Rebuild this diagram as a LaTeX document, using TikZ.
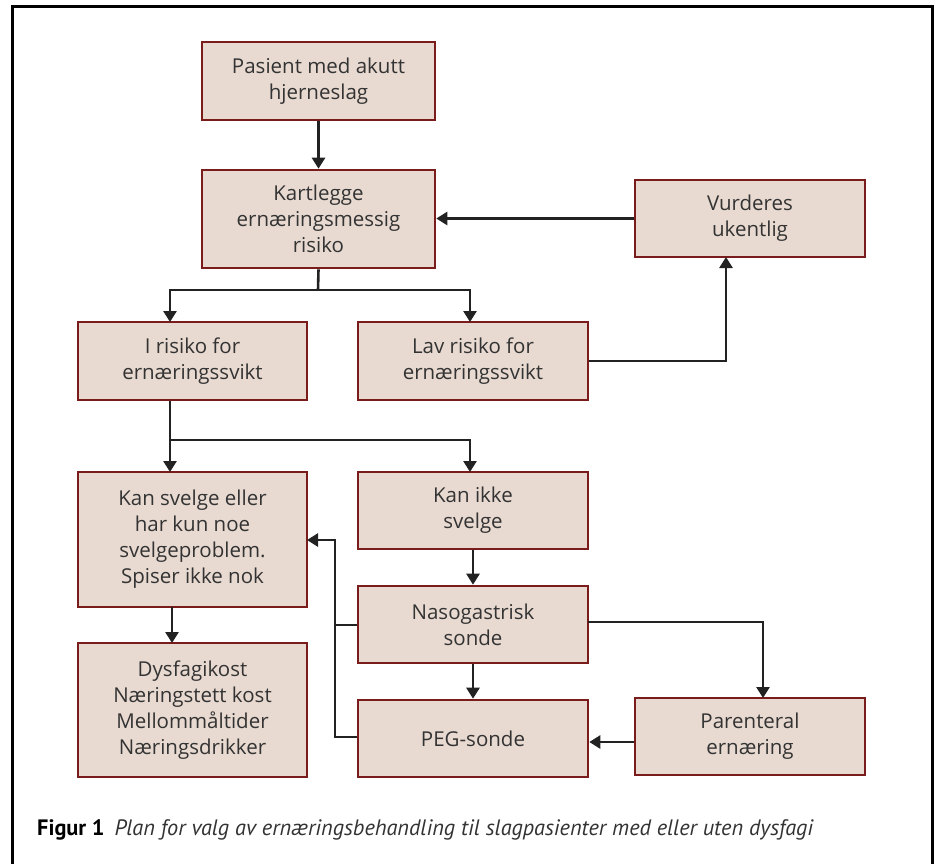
\documentclass[tikz,border=0pt]{standalone}
\usepackage{fontspec}
\setmainfont{Open Sans}
\newfontfamily\capfont{PT Sans}
\usetikzlibrary{arrows.meta}
\definecolor{boxfill}{HTML}{E8DAD1}
\definecolor{boxline}{HTML}{7A1C1C}
\definecolor{txt}{HTML}{333333}
\definecolor{arr}{HTML}{222222}
\tikzset{
  fbox/.style={draw=boxline, line width=2.6pt, fill=boxfill, inner sep=0pt,
    text=txt, font=\fontsize{20.5}{26}\selectfont, align=center},
  conn/.style={draw=arr, line width=2.6pt, -{Triangle[length=11pt,width=13pt]}},
  plain/.style={draw=arr, line width=2.6pt}
}
\newcommand{\bx}[6]{\node[fbox, minimum width=#4pt-#2pt, minimum height=#5pt-#3pt] (#1) at ({(#2+#4)/2},{(#3+#5)/2+2}) {#6};}
\begin{document}
\begin{tikzpicture}[x=1pt,y=-1pt]
\useasboundingbox (0,0) rectangle (939,863);
\fill[white] (0,0) rectangle (939,863);
\draw[black, line width=3pt] (12,875) -- (12,6) -- (932,6) -- (932,875);
\bx{pas}{202}{40}{435}{118}{Pasient med akutt\\hjerneslag}
\bx{kart}{202}{168}{435}{266}{Kartlegge\\ernæringsmessig\\risiko}
\bx{vur}{635}{178}{865}{255}{Vurderes\\ukentlig}
\bx{irisk}{78}{320}{307}{398}{I risiko for\\ernæringssvikt}
\bx{lav}{358}{320}{588}{398}{Lav risiko for\\ernæringssvikt}
\bx{kan}{78}{470}{307}{605}{Kan svelge eller\\har kun noe\\svelgeproblem.\\Spiser ikke nok}
\bx{ikke}{358}{470}{588}{547}{Kan ikke\\svelge}
\bx{naso}{358}{584}{588}{661}{Nasogastrisk\\sonde}
\bx{dys}{78}{641}{307}{775}{Dysfagikost\\Næringstett kost\\Mellommåltider\\Næringsdrikker}
\bx{peg}{358}{698}{588}{775}{PEG-sonde}
\bx{par}{635}{696}{865}{773}{Parenteral\\ernæring}
% connectors
\draw[conn] (pas.south) -- (kart.north);
\coordinate (s1) at (318,290);
\draw[plain] (kart.south) -- (s1);
\draw[conn] (s1) -| (170,322);
\draw[conn] (s1) -| (470,322);
\draw[conn] (vur.west) -- (vur.west -| kart.east);
\draw[conn] (lav.east) -| (726,257);
\coordinate (s2) at (170,440);
\draw[plain] (irisk.south -| s2) -- (s2);
\draw[conn] (s2) -- (170,472);
\draw[conn] (s2) -| (470,472);
\draw[conn] (172,607) -- (172,643);
\draw[conn] (ikke.south) -- (naso.north);
\draw[conn] (naso.south) -- (peg.north);
\coordinate (jx) at (335,625);
\draw[plain] (naso.west |- jx) -- (jx);
\draw[conn] (peg.west |- 0,737) -| (335,540) -- (307,540);
\draw[conn] (588,622) -| (763,698);
\draw[conn] (par.west |- 0,742) -- (peg.east |- 0,742);
% caption
\node[anchor=base west, inner sep=0pt, text=black] (cap) at (37,835)
  {\capfont\fontsize{22.3}{26}\selectfont\bfseries Figur 1\hspace{10pt}\mdseries\itshape\color{txt}Plan for valg av ernæringsbehandling til slagpasienter med eller uten dysfagi};
\end{tikzpicture}
\end{document}
